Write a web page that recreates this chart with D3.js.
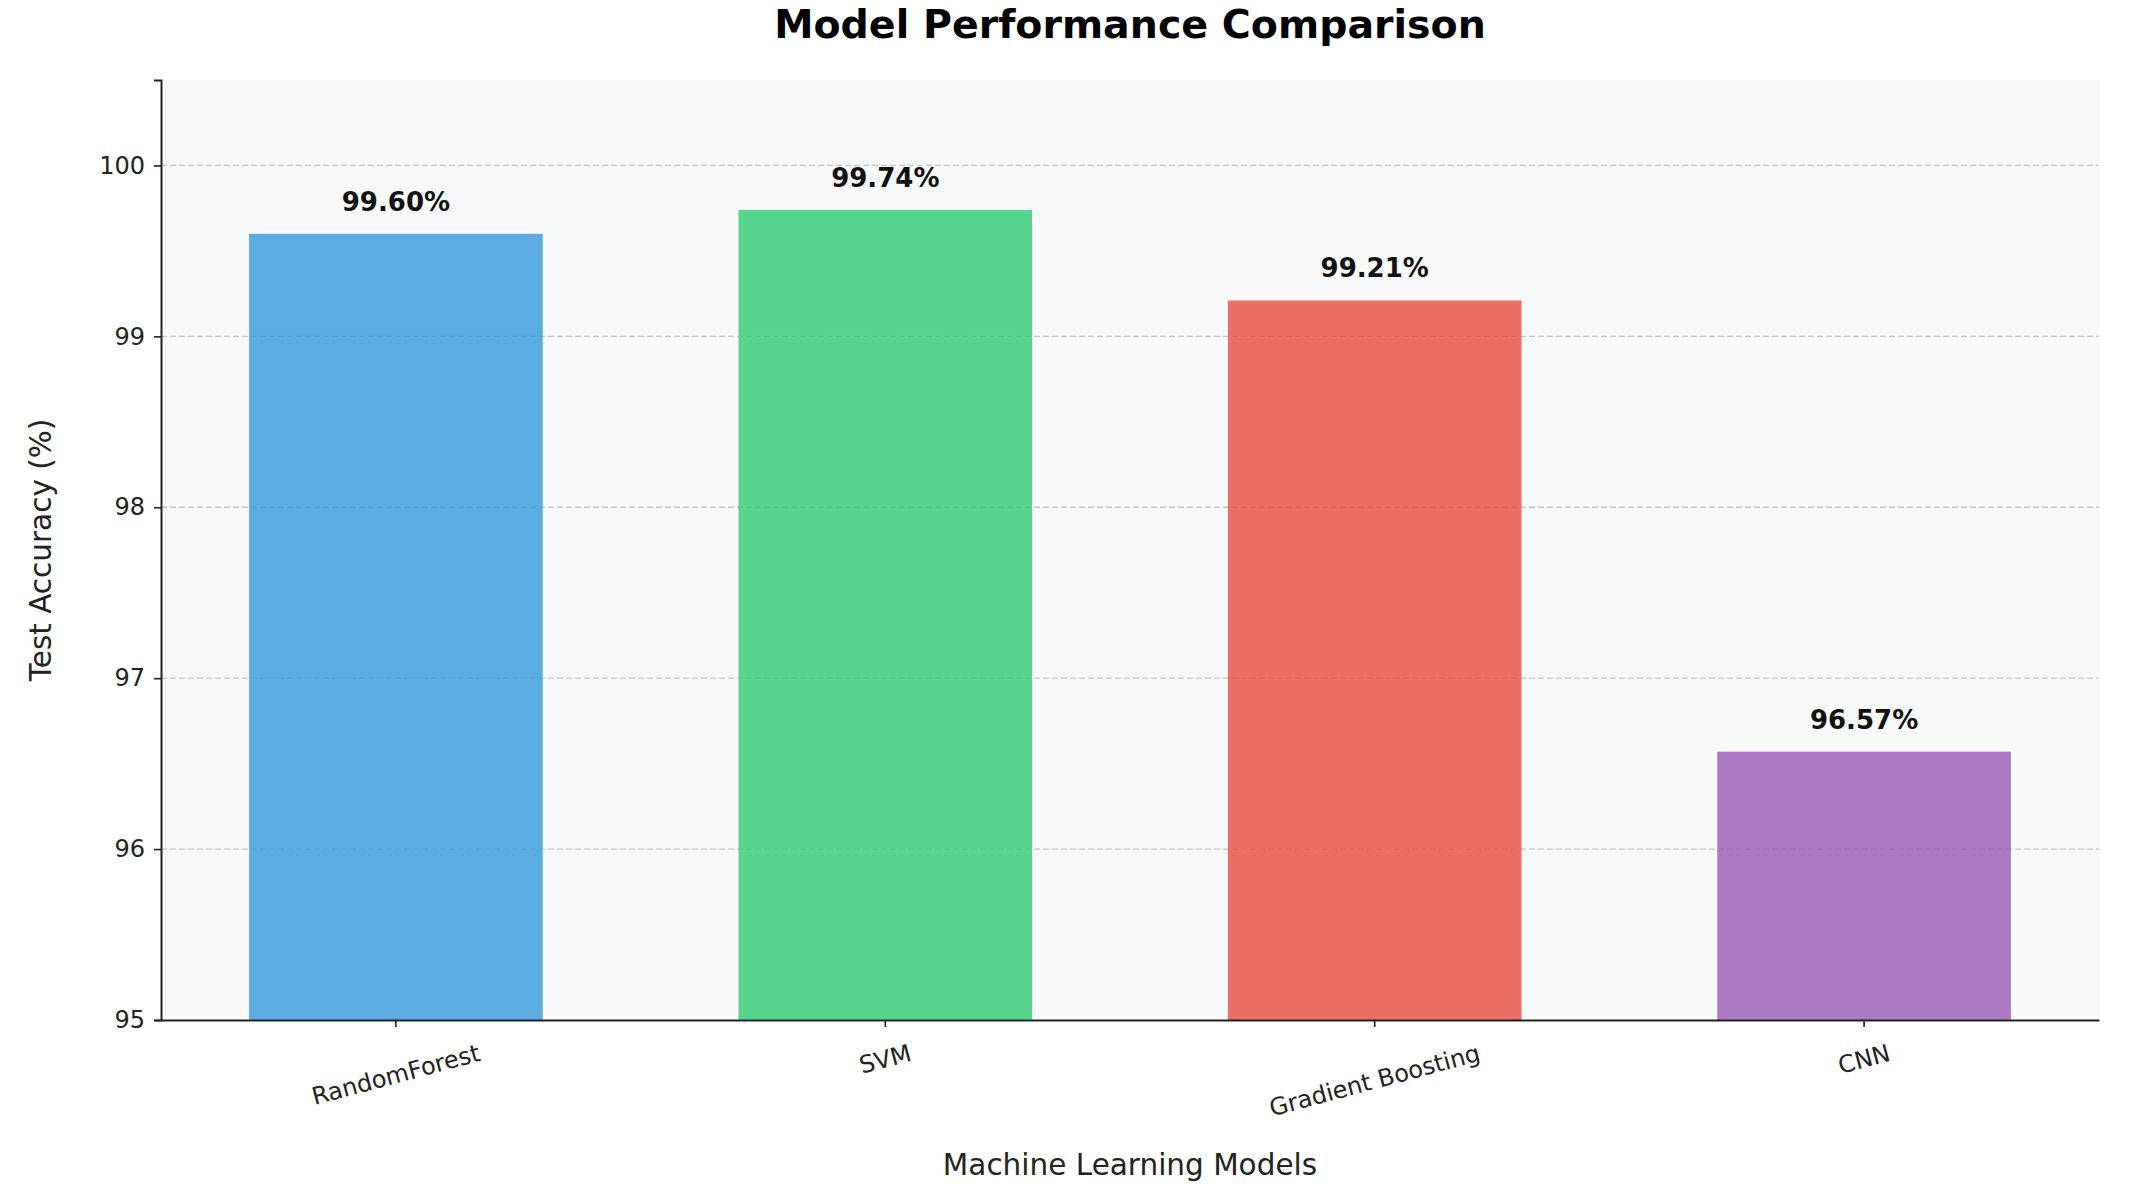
<!DOCTYPE html>
<html lang="en">
<head>
    <meta charset="UTF-8">
    <title>Model Performance Comparison</title>
    <script src="https://d3js.org/d3.v7.min.js"></script>
    <style>
        body { margin: 0; background: #fff; }
        text { font-family: "DejaVu Sans", sans-serif; }
    </style>
</head>
<body>
<script>
    const width = 2144;
    const height = 1184;

    // data
    const models = ["RandomForest", "SVM", "Gradient Boosting", "CNN"];
    const accuracy = [99.60, 99.74, 99.21, 96.57];
    const colors = ["#3498db", "#2ecc71", "#e74c3c", "#9b59b6"];
    const yTicks = [95, 96, 97, 98, 99, 100];

    const margin = {left: 161, right: 45, top: 80, bottom: 164};

    const svg = d3.select("body").append("svg")
            .attr("width", width).attr("height", height);

    const x = d3.scaleBand()
            .domain(models)
            .range([margin.left, width - margin.right])
            .paddingInner(0.4)
            .paddingOuter(0.18);

    const y = d3.scaleLinear()
            .domain([95, 100.5])
            .range([height - margin.bottom, margin.top]);

    // plot background
    svg.append("rect")
            .attr("x", margin.left).attr("y", margin.top)
            .attr("width", width - margin.left - margin.right)
            .attr("height", height - margin.top - margin.bottom)
            .style("fill", "#f8f9fa");

    // grid
    svg.append("g").selectAll("line")
            .data(yTicks.slice(1))
            .enter().append("line")
            .attr("x1", margin.left).attr("x2", width - margin.right)
            .attr("y1", d => y(d)).attr("y2", d => y(d))
            .style("stroke", "#c4c4c4")
            .style("stroke-width", 1.3)
            .style("stroke-dasharray", "6,3");

    // bars
    svg.append("g").selectAll("rect")
            .data(models)
            .enter().append("rect")
            .attr("x", d => x(d))
            .attr("width", x.bandwidth())
            .attr("y", (d, i) => y(accuracy[i]))
            .attr("height", (d, i) => y(95) - y(accuracy[i]))
            .style("fill", (d, i) => colors[i])
            .style("fill-opacity", 0.8);

    // value labels
    svg.append("g").selectAll("text")
            .data(models)
            .enter().append("text")
            .attr("x", d => x(d) + x.bandwidth() / 2)
            .attr("y", (d, i) => y(accuracy[i]) - 23)
            .attr("text-anchor", "middle")
            .style("font-size", "26px")
            .style("font-weight", "bold")
            .style("fill", "#111")
            .text((d, i) => accuracy[i].toFixed(2) + "%");

    // y axis
    const yAxis = svg.append("g")
            .attr("transform", `translate(${margin.left},0)`)
            .call(d3.axisLeft(y).tickValues(yTicks).tickSize(7).tickPadding(9).tickFormat(d3.format("d")));
    yAxis.select(".domain").style("stroke", "#222").style("stroke-width", 2);
    yAxis.selectAll(".tick line").style("stroke", "#222").style("stroke-width", 1.6);
    yAxis.selectAll(".tick text").style("font-size", "24px").style("fill", "#222")
            .style("font-family", "DejaVu Sans");

    // x axis
    const xAxis = svg.append("g")
            .attr("transform", `translate(0,${height - margin.bottom})`)
            .call(d3.axisBottom(x).tickSize(7).tickSizeOuter(0).tickPadding(10));
    xAxis.select(".domain").style("stroke", "#222").style("stroke-width", 2);
    xAxis.selectAll(".tick line").style("stroke", "#222").style("stroke-width", 1.6);

    const angle = 15 * Math.PI / 180;
    const labelTop = 1041;
    xAxis.selectAll(".tick text")
            .style("font-size", "24px").style("fill", "#222")
            .style("font-family", "DejaVu Sans")
            .attr("dy", null)
            .attr("dominant-baseline", "central")
            .attr("text-anchor", "middle")
            .each(function() {
                const len = this.getComputedTextLength();
                const h = len * Math.sin(angle) + 24 * Math.cos(angle);
                const cy = labelTop + h / 2 - (height - margin.bottom);
                d3.select(this)
                    .attr("y", 0)
                    .attr("transform", `translate(0,${cy}) rotate(-15)`);
            });

    // titles
    svg.append("text")
            .attr("x", (margin.left + width - margin.right) / 2)
            .attr("y", 38)
            .attr("text-anchor", "middle")
            .style("font-size", "39.5px")
            .style("font-weight", "bold")
            .style("fill", "#000")
            .text("Model Performance Comparison");

    svg.append("text")
            .attr("transform", `translate(51,${(margin.top + height - margin.bottom) / 2}) rotate(-90)`)
            .attr("text-anchor", "middle")
            .style("font-size", "29.5px")
            .style("fill", "#222")
            .text("Test Accuracy (%)");

    svg.append("text")
            .attr("x", (margin.left + width - margin.right) / 2)
            .attr("y", 1175)
            .attr("text-anchor", "middle")
            .style("font-size", "29.5px")
            .style("fill", "#222")
            .text("Machine Learning Models");
</script>
</body>
</html>
